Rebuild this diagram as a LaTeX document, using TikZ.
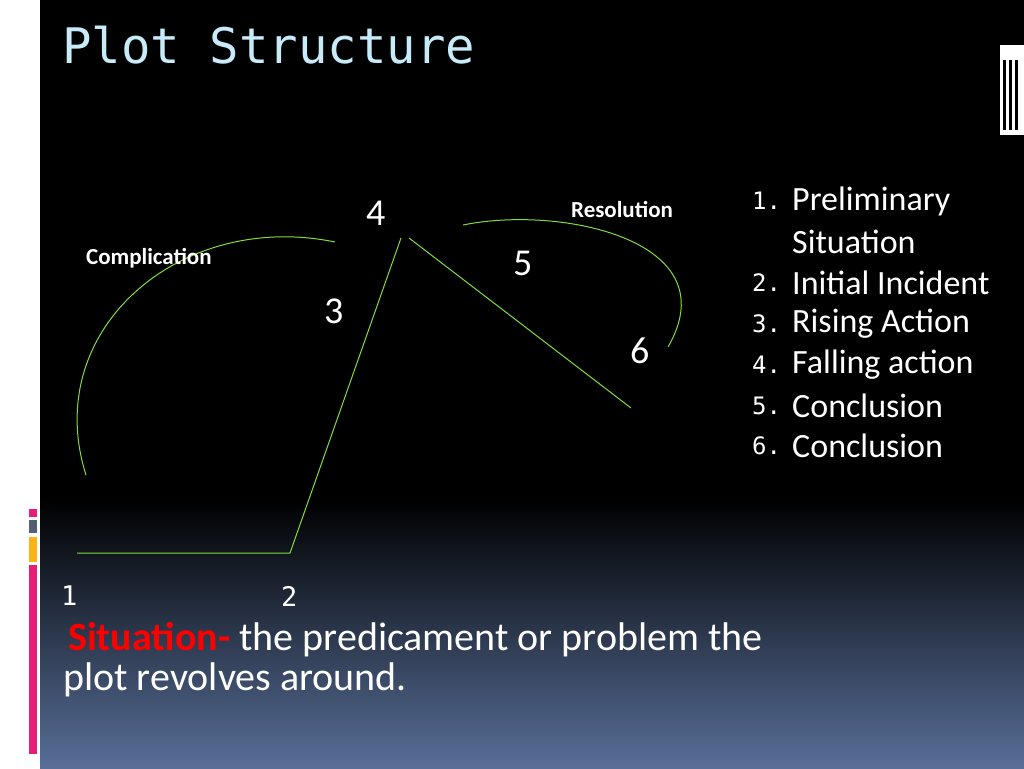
\documentclass[tikz,border=0pt]{standalone}
\usepackage{fontspec}
\setmainfont{Carlito}
\newfontfamily\monof{DejaVu Sans Mono}
\definecolor{bgblue}{RGB}{88,111,153}
\definecolor{pinkc}{RGB}{230,30,120}
\definecolor{grayc}{RGB}{85,95,115}
\definecolor{orangec}{RGB}{250,180,20}
\definecolor{titlec}{RGB}{200,235,250}
\definecolor{linec}{RGB}{130,220,60}
\begin{document}
\begin{tikzpicture}[x=1pt,y=-1pt,
  g/.style={draw=linec, line width=1pt},
  t/.style={text=white, inner sep=0pt, anchor=west}]
\useasboundingbox (0,0) rectangle (1024,768);
\fill[white] (0,0) rectangle (40,768);
\fill[black] (40,0) rectangle (1024,500);
\shade[top color=black, bottom color=bgblue] (40,499) rectangle (1024,768);
\fill[pinkc] (29,509) rectangle (37,517);
\fill[grayc] (29,520) rectangle (37,533);
\fill[orangec] (29,537) rectangle (37,562);
\fill[pinkc] (29,565) rectangle (37,754);
\node[anchor=west, text=titlec, font=\monof\fontsize{49}{56}\selectfont, inner sep=0pt] (title) at (62,45) {Plot Structure};
% curves
\coordinate (a1) at (86,475); \coordinate (a2) at (335,242);
\draw[g] (a1) .. controls (40,330) and (180,210) .. (a2);
\coordinate (p1) at (77,553); \coordinate (p2) at (290,553); \coordinate (p3) at (401,238);
\draw[g] (p1) -- (p2) -- (p3);
\coordinate (q1) at (409,238); \coordinate (q2) at (631,408);
\draw[g] (q1) -- (q2);
\coordinate (r1) at (463,225); \coordinate (r2) at (668,347);
\draw[g] (r1) .. controls (560,205) and (730,240) .. (r2);
% labels
\node[t, font=\bfseries\fontsize{28}{32}\selectfont, scale=0.82] (comp) at (86,258) {Complication};
\node[t, font=\bfseries\fontsize{28}{32}\selectfont, scale=0.82] (res) at (571,210) {Resolution};
\node[t, font=\fontsize{38}{44}\selectfont] (n4) at (366,213) {4};
\node[t, font=\fontsize{38}{44}\selectfont] (n3) at (324,311) {3};
\node[t, font=\fontsize{38}{44}\selectfont] (n5) at (513,263) {5};
\node[t, font=\fontsize{38}{44}\selectfont] (n6) at (630,351) {6};
\node[t, font=\monof\fontsize{27}{30}\selectfont] (n1) at (61,596) {1};
\node[t, font=\monof\fontsize{27}{30}\selectfont] (n2) at (281,596) {2};
% list
\begin{scope}[every node/.style={t, font=\fontsize{34}{38}\selectfont}]
\node[font=\monof\fontsize{24}{28}\selectfont] at (752,201) {1.}; \node at (792,201) {Preliminary};
\node at (792,242) {Situation};
\node[font=\monof\fontsize{24}{28}\selectfont] at (752,283) {2.}; \node at (792,283) {Initial Incident};
\node[font=\monof\fontsize{24}{28}\selectfont] at (752,324) {3.}; \node at (792,324) {Rising Action};
\node[font=\monof\fontsize{24}{28}\selectfont] at (752,365) {4.}; \node at (792,365) {Falling action};
\node[font=\monof\fontsize{24}{28}\selectfont] at (752,406) {5.}; \node at (792,406) {Conclusion};
\node[font=\monof\fontsize{24}{28}\selectfont] at (752,446) {6.}; \node at (792,446) {Conclusion};
\end{scope}
\node[t, font=\fontsize{40}{46}\selectfont] (s1) at (68,640) {\textcolor{red}{\bfseries Situation-} the predicament or problem the};
\node[t, font=\fontsize{40}{46}\selectfont] (s2) at (63,680) {plot revolves around.};
% icon
\fill[white] (1000,45) rectangle (1024,135);
\foreach \x in {1003,1009,1015} \fill[black] (\x,60) rectangle (\x+3,130);
\end{tikzpicture}
\end{document}
